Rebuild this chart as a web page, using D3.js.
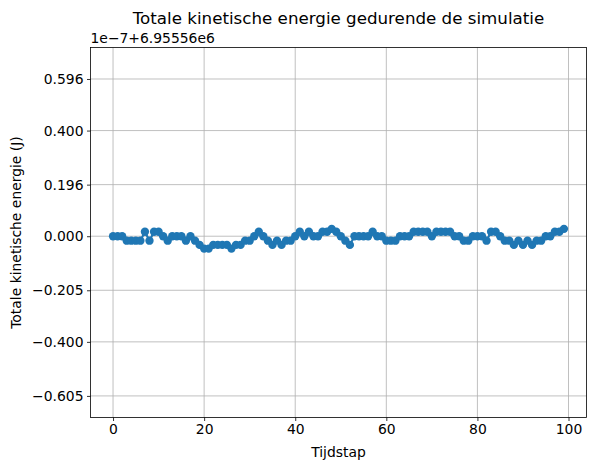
<!DOCTYPE html>
<html><head><meta charset="utf-8">
<script src="https://cdn.jsdelivr.net/npm/d3@7"></script>
<style>body{margin:0;background:#fff}svg{display:block}text{font-family:"DejaVu Sans",sans-serif;fill:#000}</style>
</head><body><svg id="c" width="596" height="470"></svg>
<script>
const steps = d3.range(0, 100);
// kinetic energy minus offset 6.95556e6, in units of 1e-7 J
const energy = [0,0,0,-0.017,-0.017,-0.017,-0.017,0.017,-0.017,0.017,
0.017,0,-0.017,0,0,0,-0.017,0,-0.017,-0.033,
-0.047,-0.047,-0.033,-0.033,-0.033,-0.033,-0.047,-0.033,-0.033,-0.017,
-0.017,0,0.017,0,-0.017,-0.033,-0.017,-0.033,-0.017,-0.017,
0,0.017,0,0.017,0,0,0.017,0.017,0.028,0.017,
0,-0.017,-0.033,0,0,0,0,0.017,0,0,
-0.017,-0.017,-0.017,0,0,0,0.017,0.017,0.017,0.017,
0,0.017,0.017,0.017,0.017,0,0,-0.017,-0.017,0,
0,0,-0.017,0.017,0.017,0,-0.017,-0.017,-0.033,-0.017,
-0.033,-0.017,-0.033,-0.017,-0.017,0,0,0.017,0.017,0.028];
const ulp = 0.0093132;
const yTickValues = [64*ulp, 43*ulp, 21*ulp, 0, -22*ulp, -43*ulp, -65*ulp];
const yTickLabels = ["0.596","0.400","0.196","0.000","\u22120.205","\u22120.400","\u22120.605"];
const xTickValues = [0,20,40,60,80,100];
const titleText = "Totale kinetische energie gedurende de simulatie";
const offsetText = "1e\u22127+6.95556e6";
const xLabel = "Tijdstap";
const yLabel = "Totale kinetische energie (J)";

const svg = d3.select("#c");
const L=90.5, R=586.5, T=47.5, B=417.5;
const x = d3.scaleLinear().domain([-4.95, 103.95]).range([L, R]);
const y = d3.scaleLinear().domain([-0.6872, 0.7154]).range([B, T]);

const grid = svg.append("g");
xTickValues.forEach(v=>grid.append("line").attr("x1",x(v)).attr("x2",x(v)).attr("y1",T).attr("y2",B).attr("stroke","#b0b0b0").attr("stroke-width",0.8));
yTickValues.forEach(v=>grid.append("line").attr("x1",L).attr("x2",R).attr("y1",y(v)).attr("y2",y(v)).attr("stroke","#b0b0b0").attr("stroke-width",0.8));

const data = steps.map((s,i)=>({s, v: energy[i]}));
svg.append("path").datum(data).attr("fill","none").attr("stroke","#1f77b4").attr("stroke-width",2.08)
  .attr("stroke-linejoin","round").attr("d", d3.line().x(d=>x(d.s)).y(d=>y(d.v)));
svg.append("g").selectAll("circle").data(data).join("circle")
  .attr("cx",d=>x(d.s)).attr("cy",d=>y(d.v)).attr("r",4.17).attr("fill","#1f77b4");

const xAxis = d3.axisBottom(x).tickValues(xTickValues).tickSize(3.5).tickPadding(3.5).tickFormat(d3.format("d"));
const gx = svg.append("g").attr("transform",`translate(0,${B})`).call(xAxis);
const yAxis = d3.axisLeft(y).tickValues(yTickValues).tickSize(3.5).tickPadding(3.5).tickFormat((d,i)=>yTickLabels[i]);
const gy = svg.append("g").attr("transform",`translate(${L},0)`).call(yAxis);
[gx,gy].forEach(g=>{g.select(".domain").remove();g.selectAll("line").attr("stroke","#000").attr("stroke-width",0.8);
  g.selectAll("text").attr("font-size","13.9px").attr("font-family","DejaVu Sans").attr("fill","#000");});

svg.append("rect").attr("x",L).attr("y",T).attr("width",R-L).attr("height",B-T).attr("fill","none").attr("stroke","#000").attr("stroke-width",0.8);

svg.append("text").attr("x",(L+R)/2).attr("y",24).attr("text-anchor","middle").attr("font-size","16.7px").text(titleText);
svg.append("text").attr("x",L).attr("y",43).attr("font-size","13.9px").text(offsetText);
svg.append("text").attr("x",(L+R)/2).attr("y",457).attr("text-anchor","middle").attr("font-size","13.9px").text(xLabel);
svg.append("text").attr("transform",`translate(21,${(T+B)/2}) rotate(-90)`).attr("text-anchor","middle").attr("font-size","13.9px").text(yLabel);
</script></body></html>
